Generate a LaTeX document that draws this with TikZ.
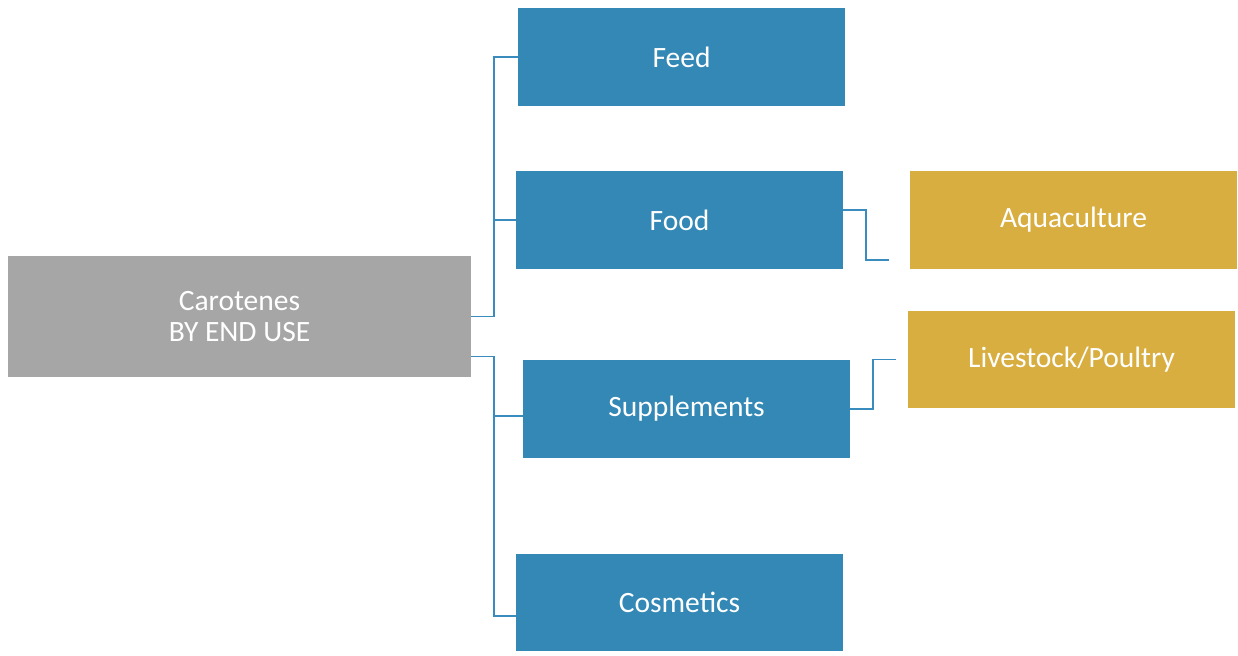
\documentclass[tikz,border=0pt]{standalone}
\usepackage{fontspec}
\setmainfont{Carlito}
\usetikzlibrary{arrows.meta}
\definecolor{segblue}{HTML}{3388B5}
\definecolor{seggold}{HTML}{D9AE41}
\definecolor{seggray}{HTML}{A6A6A6}
\definecolor{linkblue}{HTML}{3A8CBE}

\begin{document}
\begin{tikzpicture}[x=0.02cm, y=-0.02cm, font=\fontsize{16.8}{17.6}\selectfont,
  box/.style={fill=segblue, text=white, inner sep=0pt, minimum width=6.54cm, minimum height=1.96cm},
  subbox/.style={box, fill=seggold},
  rootbox/.style={box, fill=seggray, minimum width=9.26cm, minimum height=2.42cm, align=center},
  link/.style={draw=linkblue, line width=1.1pt}]
	\useasboundingbox (0,0) rectangle (1238,656);
	\node[rootbox] (root) at (239.5,316.5) {Carotenes\\BY END USE};
	\node[box] (feed) at (681.5,57) {Feed};
	\node[box] (food) at (679.5,220) {Food};
	\node[box] (supp) at (686.5,409) {Supplements};
	\node[box] (cosm) at (679.5,602.5) {Cosmetics};
	\node[subbox] (aqua) at (1073.5,220) {Aquaculture};
	\node[subbox] (live) at (1071.5,359.5) {Livestock/Poultry};
	% end use branches
	\draw[link] (root.east) -- ++(23,0) |- (feed.west);
	\draw[link] (root.east) -- ++(23,0) |- (food.west);
	\draw[link] (root.east) ++(0,40) -- ++(23,0) |- ([yshift=-4pt]supp.west);
	\draw[link] (root.east) ++(0,40) -- ++(23,0) |- ([yshift=-7.6pt]cosm.west);
	% sub segments
	\draw[link, shorten >=11.9pt] ([yshift=5.7pt]food.east) -- ++(23,0) |- ([yshift=-22.7pt]aqua.west);
	\draw[link, shorten >=6.8pt] (supp.east) -- ++(23,0) |- (live.west);
\end{tikzpicture}
\end{document}
